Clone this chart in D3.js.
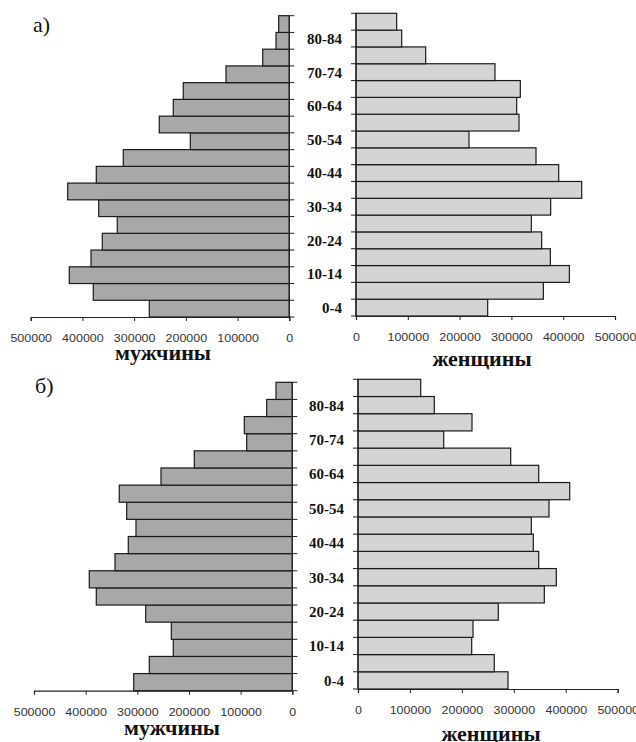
<!DOCTYPE html>
<html>
<head>
<meta charset="utf-8">
<script src="https://cdn.jsdelivr.net/npm/d3@7"></script>
<style>
  html, body { margin: 0; padding: 0; background: #fff; }
  svg { display: block; }
</style>
</head>
<body>
<svg id="chart" width="636" height="742"></svg>
<script>
// ---- data ----
const ages = ["0-4","5-9","10-14","15-19","20-24","25-29","30-34","35-39","40-44",
              "45-49","50-54","55-59","60-64","65-69","70-74","75-79","80-84","85+"];
const labeledAges = ["0-4","10-14","20-24","30-34","40-44","50-54","60-64","70-74","80-84"];
const valueTicks = [0, 100000, 200000, 300000, 400000, 500000];

// panel а)
const menA   = [270700, 379000, 425400, 383400, 361600, 332600, 368500, 428500, 373200,
                321000, 191400, 251400, 224300, 205000, 122400, 51400, 25700, 20500];
const womenA = [254200, 361700, 411900, 375200, 358400, 338500, 375800, 435700, 391300,
                347500, 218100, 314700, 310200, 317200, 268300, 134500, 88200, 78500];
// panel б)
const menB   = [307000, 276800, 230400, 234200, 283800, 379400, 393000, 343200, 317500,
                302600, 320600, 334900, 254200, 189700, 88300, 92900, 49600, 31600];
const womenB = [288800, 262400, 218900, 221400, 270100, 358700, 381800, 347900, 337500,
                333700, 367700, 407600, 347900, 294000, 165000, 219500, 146900, 120700];

const panelLabels = ["а)", "б)"];
const sexLabels = ["мужчины", "женщины"];

// ---- drawing ----
const svg = d3.select("#chart");
const serif = "'Liberation Serif', 'DejaVu Serif', serif";
const sans = "'Liberation Sans', Arial, sans-serif";

function drawSide(opts) {
  const { values, x0, x1, yTop, yBot, fill, side, title, titleX, titleY, showCats, catX } = opts;
  const x = d3.scaleLinear().domain([0, 500000]).range([x0, x1]);
  const y = d3.scaleBand().domain(ages).range([yBot, yTop]).padding(0);
  const g = svg.append("g");

  // bars
  g.selectAll("rect.bar").data(ages).join("rect")
    .attr("class", "bar")
    .attr("x", (d, i) => Math.min(x(0), x(values[i])))
    .attr("y", d => y(d))
    .attr("width", (d, i) => Math.abs(x(values[i]) - x(0)))
    .attr("height", y.bandwidth())
    .attr("fill", fill)
    .attr("stroke", "#1a1a1a")
    .attr("stroke-width", 1.2);

  // value axis
  const ax = g.append("g")
    .attr("transform", `translate(0,${yBot})`)
    .call(d3.axisBottom(x).tickValues(valueTicks).tickSize(4).tickPadding(14)
      .tickFormat(d => String(d)));
  ax.select(".domain").attr("stroke", "#222").attr("stroke-width", 1.2);
  ax.selectAll(".tick line").attr("stroke", "#222");
  ax.selectAll(".tick text").attr("font-family", sans).attr("font-size", 10)
    .attr("transform", "scale(1.25,1)")
    .attr("fill", "#333");

  // category axis line + ticks at band edges
  const cx = x(0);
  const dir = side === "left" ? 1 : -1;
  g.append("line").attr("x1", cx).attr("x2", cx).attr("y1", yTop).attr("y2", yBot)
    .attr("stroke", "#222").attr("stroke-width", 1.2);
  const edges = ages.map(d => y(d)).concat([yBot]);
  g.selectAll("line.ctick").data(edges).join("line")
    .attr("class", "ctick")
    .attr("x1", cx).attr("x2", cx + dir * 5)
    .attr("y1", d => d).attr("y2", d => d)
    .attr("stroke", "#222");

  if (showCats) {
    g.selectAll("text.cat").data(labeledAges).join("text")
      .attr("class", "cat")
      .attr("x", catX)
      .attr("y", d => y(d) + y.bandwidth() / 2)
      .attr("dy", "0.36em")
      .attr("text-anchor", "end")
      .attr("font-family", serif)
      .attr("font-weight", "bold")
      .attr("font-size", 15)
      .attr("fill", "#111")
      .text(d => d);
  }

  g.append("text")
    .attr("x", titleX).attr("y", titleY)
    .attr("text-anchor", "middle")
    .attr("font-family", serif)
    .attr("font-weight", "bold")
    .attr("font-size", 22)
    .attr("fill", "#111")
    .text(title);
}

// panel а)
drawSide({ values: menA, x0: 289.3, x1: 30.7, yTop: 15.7, yBot: 317, fill: "#a8a8a8",
  side: "left", title: sexLabels[0], titleX: 163, titleY: 360, showCats: false });
drawSide({ values: womenA, x0: 356, x1: 615, yTop: 13.3, yBot: 316, fill: "#d4d4d4",
  side: "right", title: sexLabels[1], titleX: 482, titleY: 366, showCats: true, catX: 342 });

// panel б)
drawSide({ values: menB, x0: 292.3, x1: 34, yTop: 382.3, yBot: 690.7, fill: "#a8a8a8",
  side: "left", title: sexLabels[0], titleX: 172, titleY: 735, showCats: false });
drawSide({ values: womenB, x0: 358, x1: 617.7, yTop: 379.3, yBot: 689, fill: "#d4d4d4",
  side: "right", title: sexLabels[1], titleX: 491, titleY: 740.5, showCats: true, catX: 344 });

// panel letters
svg.append("text").attr("x", 33).attr("y", 32)
  .attr("font-family", serif).attr("font-size", 22).attr("fill", "#111").text(panelLabels[0]);
svg.append("text").attr("x", 35).attr("y", 393)
  .attr("font-family", serif).attr("font-size", 22).attr("fill", "#111").text(panelLabels[1]);
</script>
</body>
</html>
